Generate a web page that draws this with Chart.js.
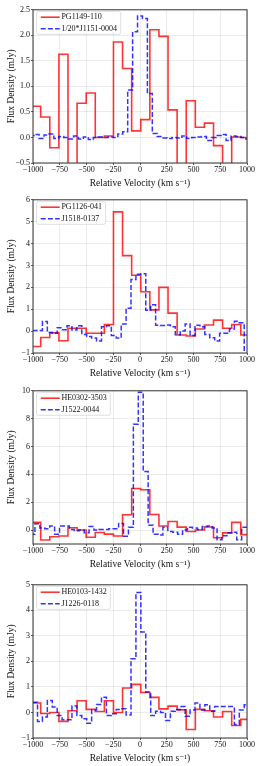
<!DOCTYPE html>
<html>
<head>
<meta charset="utf-8">
<script src="https://cdn.jsdelivr.net/npm/chart.js@4.4.1/dist/chart.umd.min.js"></script>
<style>
  html,body{margin:0;padding:0;background:#fff;}
  body{width:259px;height:766px;position:relative;overflow:hidden;}
  .panel{position:absolute;left:0;width:259px;height:186px;}
</style>
</head>
<body>
<div class="panel" style="top:4px"><canvas id="c1" width="259" height="186"></canvas></div>
<div class="panel" style="top:194px"><canvas id="c2" width="259" height="186"></canvas></div>
<div class="panel" style="top:385px"><canvas id="c3" width="259" height="186"></canvas></div>
<div class="panel" style="top:579px"><canvas id="c4" width="259" height="186"></canvas></div>
<script>
// ---- DATA ----
const xTicks      = [-1000, -750, -500, -250, 0, 250, 500, 750, 1000];
const xTickLabels = ["−1000", "−750", "−500", "−250", "0", "250", "500", "750", "1000"];
const xTitle = "Relative Velocity (km s⁻¹)";
const yTitle = "Flux Density (mJy)";

// red spectra: wide velocity bins, blue spectra: narrow bins
const redStart = -1013, redWidth = 85;
const blueWidth = 46;

// panel 1
const p1RedLabel  = "PG1149-110";
const p1BlueLabel = "1/20*J1151-0004";
const p1Red = [0.61, 0.40, -0.20, 1.63, -1.0, 0.67, 0.87, 0.0, 0.03, 1.87, 1.35, 0.13,
               0.35, 2.11, 1.98, 0.54, -1.0, 0.72, 0.20, 0.28, -0.16, -1.0, 0.01, 0.0];
const p1BlueStart = -1035;
const p1Blue = [0.04, 0.06, -0.02, 0.05, 0.07, -0.02, 0.02, 0.0, -0.03, 0.03, -0.03, 0.01,
                -0.04, 0.0, 0.01, 0.0, 0.01, 0.0, 0.07, 0.11, 0.93, 2.07, 2.38, 2.33,
                0.86, 0.08, 0.02, -0.01, -0.02, 0.0, -0.01, 0.03, -0.02, 0.0, 0.01, 0.02,
                -0.06, 0.0, 0.04, 0.06, -0.06, 0.03, 0.02, 0.0, -0.03];
const p1YTicks = [-0.5, 0, 0.5, 1, 1.5, 2, 2.5];
const p1YTickLabels = ["−0.5", "0.0", "0.5", "1.0", "1.5", "2.0", "2.5"];
const p1YRange = [-0.5, 2.5];

// panel 2
const p2RedLabel  = "PG1126-041";
const p2BlueLabel = "J1518-0137";
const p2Red = [-0.7, -0.29, -0.08, -0.44, 0.13, 0.13, -0.1, -0.1, 0.3, 5.45, 3.45, 2.55,
               1.8, 0.97, 2.0, 0.82, -0.18, -0.22, 0.1, 0.28, 0.5, 0.13, 0.3, -0.18];
const p2BlueStart = -1004;
const p2Blue = [0.03, 0.03, 0.44, -0.06, -0.1, 0.15, 0.06, 0.25, 0.05, 0.24, -0.15, -0.25,
                -0.32, -0.45, 0.2, 0.25, -0.2, -0.32, 0.32, 1.05, 2.36, 2.6, 2.62, 0.95,
                1.2, 0.27, 0.26, 0.28, 0.2, -0.17, 0.0, 0.33, -0.2, 0.27, 0.2, -0.15,
                -0.3, -0.45, -0.1, -0.1, 0.1, 0.45, 0.38, -1.3];
const p2YTicks = [-1, 0, 1, 2, 3, 4, 5, 6];
const p2YTickLabels = ["−1", "0", "1", "2", "3", "4", "5", "6"];
const p2YRange = [-1, 6];

// panel 3
const p3RedLabel  = "HE0302-3503";
const p3BlueLabel = "J1522-0044";
const p3Red = [0.55, -0.71, -0.48, -0.43, 0.17, 0.0, -0.52, -0.17, -0.29, -0.43, 1.1, 2.98,
               2.9, 1.12, 0.29, 0.62, 0.21, -0.1, 0.0, 0.22, -0.55, -0.2, 0.55, -0.33];
const p3BlueStart = -1028;
const p3Blue = [-0.3, 0.45, 0.15, 0.1, 0.3, -0.3, 0.3, 0.3, 0.05, -0.05, 0.0, -0.2,
                0.25, 0.0, 0.05, 0.05, 0.1, 0.1, 0.48, -0.45, 0.2, 7.6, 9.9, 4.2,
                0.35, -0.3, -0.35, 0.2, -0.1, -0.15, -0.3, 0.0, 0.2, 0.15, 0.05, 0.25,
                0.3, 0.15, -0.7, -0.4, -0.2, -0.15, -0.7, 0.2, 0.2];
const p3YTicks = [0, 2, 4, 6, 8, 10];
const p3YTickLabels = ["0", "2", "4", "6", "8", "10"];
const p3YRange = [-1, 10];

// panel 4
const p4RedLabel  = "HE0103-1432";
const p4BlueLabel = "J1226-0118";
const p4Red = [0.37, -0.04, 0.0, -0.35, 0.07, 0.46, 0.12, 0.04, 0.46, 0.0, 0.96, 1.1,
               0.78, 0.59, 0.14, 0.25, 0.1, -0.67, 0.12, 0.07, -0.18, 0.04, -0.51, -0.27];
const p4BlueStart = -1004;
const p4Blue = [0.4, -0.35, -0.18, 0.47, 0.21, -0.12, -0.29, -0.29, 0.25, -0.12, -0.25, -0.42,
                0.1, 0.31, 0.6, -0.12, -0.05, 0.12, 0.15, -0.1, 2.1, 4.7, 3.15, 0.8,
                -0.12, 0.05, 0.0, -0.31, 0.05, 0.12, 0.23, -0.15, 0.1, 0.37, 0.1, 0.3,
                0.05, 0.23, 0.23, 0.23, 0.23, -0.47, 0.1, 0.3];
const p4YTicks = [-1, 0, 1, 2, 3, 4, 5];
const p4YTickLabels = ["−1", "0", "1", "2", "3", "4", "5"];
const p4YRange = [-1, 5];

// ---- STYLE ----
const FONT = "'Liberation Serif', 'DejaVu Serif', serif";
const RED  = "rgba(255,0,0,0.8)";
const BLUE = "rgba(0,0,255,0.8)";

// bin values -> step outline (left edges plus closing right edge)
function stepPoints(start, width, vals){
  const pts = vals.map((v,i)=>({x:start+i*width, y:v}));
  pts.push({x:start+vals.length*width, y:vals[vals.length-1]});
  return pts;
}

const frame = {
  id: "frame",
  afterDatasetsDraw(chart){
    const {ctx, chartArea:a} = chart;
    ctx.save();
    ctx.strokeStyle = "#333";
    ctx.lineWidth = 1;
    ctx.strokeRect(a.left, a.top, a.right-a.left, a.bottom-a.top);
    ctx.restore();
  }
};

const boxLegend = {
  id: "boxLegend",
  afterDraw(chart){
    const {ctx, chartArea:a} = chart;
    const ds = chart.data.datasets;
    ctx.save();
    ctx.font = "8px " + FONT;
    const tw = Math.max(...ds.map(d=>ctx.measureText(d.label).width));
    const bx = a.left+3.5, by = a.top+1.5, bw = 28+tw+4-3.5, bh = 23;
    ctx.beginPath();
    ctx.roundRect(bx, by, bw, bh, 2);
    ctx.fillStyle = "rgba(255,255,255,0.8)";
    ctx.fill();
    ctx.strokeStyle = "rgba(210,210,210,0.9)";
    ctx.lineWidth = 0.8;
    ctx.stroke();
    ds.forEach((d,i)=>{
      const yy = a.top + 7.4 + i*11.6;
      ctx.beginPath();
      ctx.setLineDash(d.borderDash || []);
      ctx.strokeStyle = d.borderColor;
      ctx.lineWidth = d.borderWidth;
      ctx.moveTo(a.left+7.7, yy);
      ctx.lineTo(a.left+26.7, yy);
      ctx.stroke();
      ctx.setLineDash([]);
      ctx.fillStyle = "#111";
      ctx.textBaseline = "middle";
      ctx.fillText(d.label, a.left+28.4, yy);
    });
    ctx.restore();
  }
};

function makePanel(id, p){
  return new Chart(document.getElementById(id), {
    type: "line",
    data: { datasets: [
      { label:p.redLabel, data:stepPoints(redStart, redWidth, p.red), borderColor:RED,
        borderWidth:1.6, stepped:"before", pointRadius:0, order:1 },
      { label:p.blueLabel, data:stepPoints(p.blueStart, blueWidth, p.blue), borderColor:BLUE,
        borderWidth:1.5, borderDash:[5,2.2], stepped:"before", pointRadius:0, order:0 }
    ]},
    options: {
      responsive:false, animation:false, events:[],
      layout:{ padding:{left:0, right:12, top:5, bottom:0} },
      plugins:{ legend:{display:false}, tooltip:{enabled:false} },
      scales:{
        x:{ type:"linear", min:-1000, max:1000,
            afterBuildTicks: s=>{ s.ticks = xTicks.map(v=>({value:v})); },
            afterFit: s=>{ s.height = 27; },
            ticks:{ callback:(v,i)=>xTickLabels[i], font:{family:FONT, size:8}, color:"#111",
                    padding:0, maxRotation:0, autoSkip:false },
            grid:{ color:"rgba(0,0,0,0.1)", lineWidth:0.8, tickLength:2, tickColor:"#333", tickWidth:0.8 },
            border:{display:false},
            title:{ display:true, text:xTitle, font:{family:FONT, size:9.5}, color:"#111",
                    padding:{top:0, bottom:1} } },
        y:{ type:"linear", min:p.yRange[0], max:p.yRange[1],
            afterBuildTicks: s=>{ s.ticks = p.yTicks.map(v=>({value:v})); },
            afterFit: s=>{ s.width = 33; },
            ticks:{ callback:(v,i)=>p.yTickLabels[i], font:{family:FONT, size:8}, color:"#111",
                    padding:1, autoSkip:false },
            grid:{ color:"rgba(0,0,0,0.1)", lineWidth:0.8, tickLength:2, tickColor:"#333", tickWidth:0.8 },
            border:{display:false},
            title:{ display:true, text:yTitle, font:{family:FONT, size:9.5}, color:"#111",
                    padding:{top:6, bottom:0} } }
      }
    },
    plugins:[frame, boxLegend]
  });
}

makePanel("c1", {redLabel:p1RedLabel, blueLabel:p1BlueLabel, red:p1Red, blue:p1Blue, blueStart:p1BlueStart,
                 yTicks:p1YTicks, yTickLabels:p1YTickLabels, yRange:p1YRange});
makePanel("c2", {redLabel:p2RedLabel, blueLabel:p2BlueLabel, red:p2Red, blue:p2Blue, blueStart:p2BlueStart,
                 yTicks:p2YTicks, yTickLabels:p2YTickLabels, yRange:p2YRange});
makePanel("c3", {redLabel:p3RedLabel, blueLabel:p3BlueLabel, red:p3Red, blue:p3Blue, blueStart:p3BlueStart,
                 yTicks:p3YTicks, yTickLabels:p3YTickLabels, yRange:p3YRange});
makePanel("c4", {redLabel:p4RedLabel, blueLabel:p4BlueLabel, red:p4Red, blue:p4Blue, blueStart:p4BlueStart,
                 yTicks:p4YTicks, yTickLabels:p4YTickLabels, yRange:p4YRange});
</script>
</body>
</html>
